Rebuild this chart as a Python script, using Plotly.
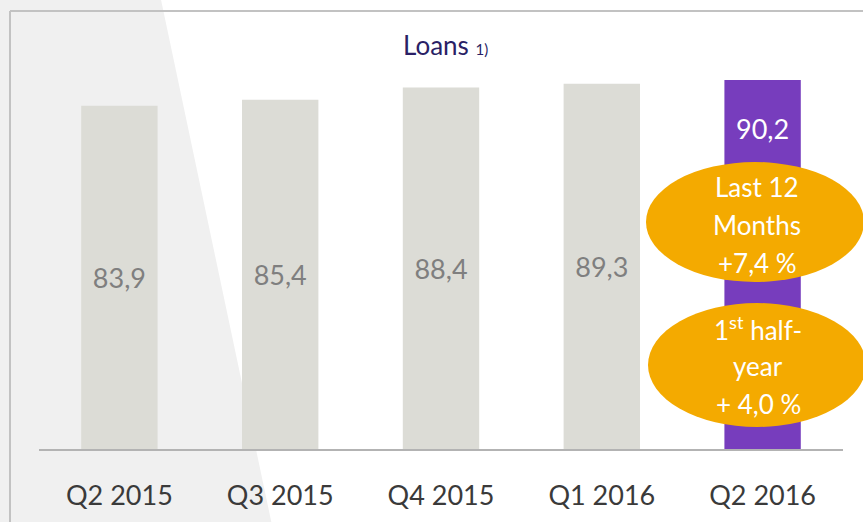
import plotly.graph_objects as go

categories = ["Q2 2015", "Q3 2015", "Q4 2015", "Q1 2016", "Q2 2016"]
loans = [83.9, 85.4, 88.4, 89.3, 90.2]
badge_12m = ["Last 12", "Months", "+7,4 %"]
badge_h1 = ["1<sup>st</sup> half-", "year", "+ 4,0 %"]

W, H = 863, 522
L, R, T, B = 39, 20, 40, 73
PW, PH = W - L - R, H - T - B
FONT = "Lato"

def px(x):
    return (x - L) / PW

def py(y):
    return (H - B - y) / PH

def fmt(v):
    return f"{v:.1f}".replace(".", ",")

fig = go.Figure()
fig.add_trace(go.Bar(
    x=categories[:-1], y=loans[:-1],
    marker=dict(color="#dcdcd6", line=dict(width=0)),
    text=[fmt(v) for v in loans[:-1]], textposition="inside",
    insidetextanchor="middle",
    textfont=dict(family=FONT, size=27, color="#7f7f7f"),
    hoverinfo="skip",
))
fig.add_trace(go.Bar(
    x=categories[-1:], y=loans[-1:],
    marker=dict(color="#773dbd", line=dict(width=0)),
    hoverinfo="skip",
))

shapes = []
shapes.append(dict(type="path", xref="paper", yref="paper", layer="below",
                   path=f"M {px(-5)},{py(-5)} L {px(160)},{py(-5)} L {px(273)},{py(530)} L {px(-5)},{py(530)} Z",
                   fillcolor="#f0f0f0", line=dict(width=0)))
shapes.append(dict(type="line", xref="paper", yref="paper", layer="below",
                   x0=px(10), x1=px(10), y0=py(11), y1=py(530),
                   line=dict(color="#c2c2c2", width=2)))
shapes.append(dict(type="line", xref="paper", yref="paper", layer="below",
                   x0=px(10), x1=px(870), y0=py(11), y1=py(11),
                   line=dict(color="#c2c2c2", width=2)))
shapes.append(dict(type="circle", xref="paper", yref="paper", layer="above",
                   x0=px(646), x1=px(864), y0=py(162), y1=py(282),
                   fillcolor="#f4aa00", line=dict(width=0)))
shapes.append(dict(type="circle", xref="paper", yref="paper", layer="above",
                   x0=px(648), x1=px(866), y0=py(303), y1=py(427),
                   fillcolor="#f4aa00", line=dict(width=0)))

annotations = []
annotations.append(dict(x=categories[-1], y=loans[-1], xref="x", yref="y",
                        text=fmt(loans[-1]), showarrow=False, yshift=-48,
                        xanchor="center", yanchor="middle",
                        font=dict(family=FONT, size=27, color="white")))
for i, t in enumerate(badge_12m):
    annotations.append(dict(x=px(757), y=py(187 + 38 * i), xref="paper", yref="paper",
                            text=t, showarrow=False, xanchor="center", yanchor="middle",
                            font=dict(family=FONT, size=26, color="white")))
for i, t in enumerate(badge_h1):
    annotations.append(dict(x=px(758), y=py(328 + 38 * i), xref="paper", yref="paper",
                            text=t, showarrow=False, xanchor="center", yanchor="middle",
                            font=dict(family=FONT, size=26, color="white")))
annotations.append(dict(x=px(445), y=py(45), xref="paper", yref="paper",
                        text="Loans <span style='font-size:15px'>1)</span>", showarrow=False,
                        xanchor="center", yanchor="middle",
                        font=dict(family=FONT, size=26, color="#2a1f66")))

fig.update_layout(
    width=W, height=H,
    margin=dict(l=L, r=R, t=T, b=B, pad=0),
    paper_bgcolor="white", plot_bgcolor="rgba(0,0,0,0)",
    barmode="overlay", bargap=0.525, showlegend=False,
    shapes=shapes, annotations=annotations,
    xaxis=dict(categoryorder="array", categoryarray=categories,
               range=[-0.5, 4.5], showgrid=False, zeroline=False,
               showline=True, linecolor="#b3b3b3", linewidth=2,
               ticks="", ticklabelstandoff=22,
               tickfont=dict(family=FONT, size=27, color="#3a3a3a")),
    yaxis=dict(range=[0, 100], visible=False),
)

fig.write_html("out.html", config={"displayModeBar": False},
               post_script="document.body.style.margin='0';document.body.style.overflow='hidden';")
